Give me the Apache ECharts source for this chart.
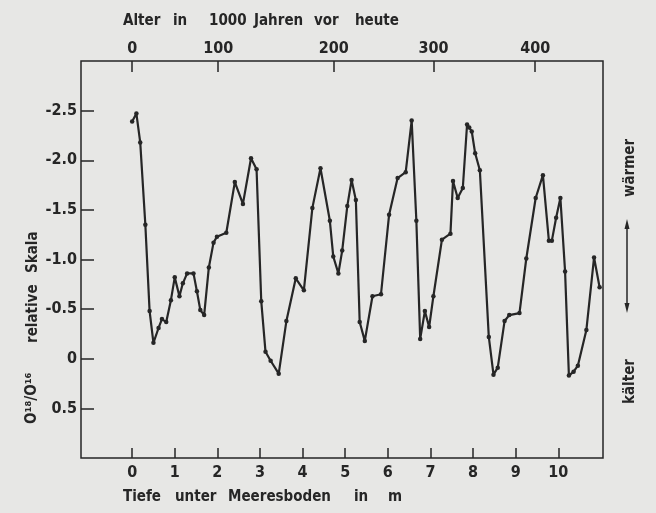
<!DOCTYPE html>
<html><head><meta charset="utf-8">
<script src="https://cdn.jsdelivr.net/npm/echarts@6/dist/echarts.min.js"></script>
<style>html,body{margin:0;padding:0;background:#e7e7e5}#c{width:656px;height:513px}</style>
</head><body><div id="c"></div>
<script>
// Tiefe unter Meeresboden (m)
const depth = [0.00,0.10,0.19,0.31,0.41,0.50,0.62,0.70,0.80,0.91,1.00,1.11,1.19,1.29,1.44,1.52,1.60,1.69,1.80,1.91,1.99,2.21,2.41,2.60,2.79,2.92,3.03,3.13,3.25,3.44,3.62,3.84,4.03,4.23,4.42,4.64,4.72,4.84,4.93,5.05,5.15,5.25,5.34,5.46,5.64,5.84,6.03,6.23,6.42,6.56,6.67,6.76,6.87,6.97,7.07,7.27,7.47,7.53,7.64,7.76,7.86,7.91,7.97,8.05,8.16,8.37,8.48,8.58,8.74,8.85,9.09,9.25,9.47,9.64,9.78,9.85,9.95,10.05,10.16,10.25,10.36,10.46,10.66,10.84,10.97];
// O18/O16 relative Skala
const o18 = [-2.39,-2.47,-2.18,-1.35,-0.48,-0.16,-0.31,-0.40,-0.37,-0.59,-0.82,-0.63,-0.76,-0.86,-0.86,-0.68,-0.49,-0.44,-0.92,-1.17,-1.23,-1.27,-1.78,-1.56,-2.02,-1.91,-0.58,-0.07,0.02,0.15,-0.38,-0.81,-0.69,-1.52,-1.92,-1.39,-1.03,-0.86,-1.09,-1.54,-1.80,-1.60,-0.37,-0.18,-0.63,-0.65,-1.45,-1.82,-1.88,-2.40,-1.39,-0.20,-0.48,-0.32,-0.63,-1.20,-1.26,-1.79,-1.62,-1.72,-2.36,-2.33,-2.29,-2.07,-1.90,-0.22,0.16,0.09,-0.38,-0.44,-0.46,-1.01,-1.62,-1.85,-1.19,-1.19,-1.42,-1.62,-0.88,0.17,0.13,0.07,-0.29,-1.02,-0.72];
const depthTicks = [0,1,2,3,4,5,6,7,8,9,10];
const ageLabels = ['0','100','200','300','400'];
const ageDepths = [0,2.02,4.73,7.07,9.46];
const yTicks = [-2.5,-2.0,-1.5,-1.0,-0.5,0,0.5];

const INK = '#262626';
const FONT = '"DejaVu Sans Condensed", "DejaVu Sans", sans-serif';
const chart = echarts.init(document.getElementById('c'), null, {renderer:'canvas'});

function word(t, x, y, rot, align) {
  return {type:'text', x:x, y:y, rotation: rot||0,
    style:{text:t, fill:INK, font:'bold 15px ' + FONT, textAlign: align||'left', textVerticalAlign:'middle'}};
}
const R = Math.PI/2;
const graphics = [
  word('Alter',123,21), word('in',173,21), word('1000',209,21), word('Jahren',254,21), word('vor',314,21), word('heute',355,21),
  word('Tiefe',123,497), word('unter',175,497), word('Meeresboden',228,497), word('in',354,497), word('m',388,497),
  word('O¹⁸/O¹⁶',32,424,R), word('relative',33,343,R), word('Skala',33,273,R),
  word('wärmer',630,197,R), word('kälter',630,404,R),
  {type:'line', shape:{x1:627,y1:226,x2:627,y2:306}, style:{stroke:INK, lineWidth:1.5}},
  {type:'polygon', shape:{points:[[627,219],[624.5,229],[629.5,229]]}, style:{fill:INK}},
  {type:'polygon', shape:{points:[[627,313],[624.5,303],[629.5,303]]}, style:{fill:INK}}
];

const lbl = {fontSize:16, fontWeight:'bold', color:INK, fontFamily:FONT};
chart.setOption({
  backgroundColor:'#e7e7e5',
  animation:false,
  textStyle:{fontFamily:FONT, color:INK},
  grid:{left:81, right:53, top:61, bottom:55, show:true, borderColor:INK, borderWidth:1.5, backgroundColor:'transparent'},
  xAxis:[
    {type:'value', position:'bottom', min:-1.2, max:11.05,
     axisLine:{show:false, onZero:false}, splitLine:{show:false},
     axisTick:{inside:true, length:10, customValues:depthTicks, lineStyle:{color:INK, width:1.5}},
     axisLabel:Object.assign({customValues:depthTicks, margin:7}, lbl)},
    {type:'value', position:'top', min:-1.2, max:11.05,
     axisLine:{show:false, onZero:false}, splitLine:{show:false},
     axisTick:{inside:true, length:11, customValues:ageDepths, lineStyle:{color:INK, width:1.5}},
     axisLabel:Object.assign({customValues:ageDepths, margin:4,
       formatter:function(v){let b=0;for(let i=0;i<ageDepths.length;i++){if(Math.abs(ageDepths[i]-v)<Math.abs(ageDepths[b]-v))b=i;}return ageLabels[b];}}, lbl)}
  ],
  yAxis:{type:'value', inverse:true, min:-3, max:1,
     axisLine:{show:false, onZero:false}, splitLine:{show:false},
     axisTick:{inside:true, length:13, customValues:yTicks, lineStyle:{color:INK, width:1.5}},
     axisLabel:Object.assign({customValues:yTicks, margin:4,
       formatter:function(v){return v===0?'0':v.toFixed(1);}}, lbl)},
  series:[{type:'line', xAxisIndex:0, yAxisIndex:0,
    data: depth.map((d,i)=>[d,o18[i]]),
    symbol:'circle', symbolSize:4.5, showSymbol:true,
    lineStyle:{color:INK, width:2.2}, itemStyle:{color:INK}}],
  graphic: graphics
});
</script></body></html>
